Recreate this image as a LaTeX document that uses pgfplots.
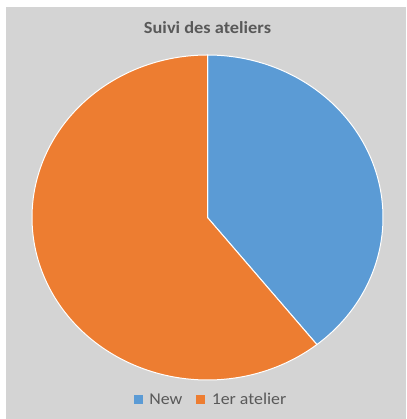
\documentclass[border=0pt]{standalone}
\usepackage{pgfplots}
\pgfplotsset{compat=1.18}
\usepackage{pgfplotstable}
\usepackage{fontspec}
\setmainfont{Carlito}
\newfontfamily\chartfont[FakeStretch=1.08]{Carlito}
\definecolor{bgC}{HTML}{D4D4D4}
\definecolor{txtC}{HTML}{595959}
\definecolor{blueC}{HTML}{5B9BD5}
\definecolor{orangeC}{HTML}{ED7D31}
\pgfplotstableread{
label value
New 11
1er 17
}\piedata
\begin{document}
\begin{tikzpicture}
\pgfplotstablegetelem{0}{value}\of\piedata \let\vA\pgfplotsretval
\pgfplotstablegetelem{1}{value}\of\piedata \let\vB\pgfplotsretval
\pgfmathsetmacro{\angA}{360*\vA/(\vA+\vB)}
\pgfmathsetmacro{\startA}{90-\angA}
\pgfmathsetmacro{\endB}{90+360-\angA}
\fill[white] (0pt,0pt) rectangle (406pt,419pt);
\fill[bgC] (6pt,0pt) rectangle (406pt,412pt);
\useasboundingbox (0pt,0pt) rectangle (406pt,419pt);
\begin{axis}[
  at={(207.5pt,201.5pt)}, anchor=center,
  scale only axis, width=351pt, height=325pt,
  xmin=-1, xmax=1, ymin=-1, ymax=1,
  hide axis, clip=false,
  title={Suivi des ateliers},
  title style={at={(axis description cs:0.5,1)}, anchor=base, yshift=15.7pt, text=txtC, inner sep=0pt,
    font=\chartfont\bfseries\fontsize{17}{20}\selectfont},
  legend columns=2,
  legend style={at={(axis description cs:0.5,0)}, anchor=center, yshift=-20pt, xshift=3.5pt,
    draw=none, fill=none, text=txtC, font=\chartfont\fontsize{16.5}{19}\selectfont,
    /tikz/every even column/.append style={column sep=12pt}},
  legend image code/.code={\fill[#1, draw=none] (0pt,-4.5pt) rectangle (9pt,4.5pt); \path (13pt,0pt);},
]
\addplot[fill=blueC, draw=white, line width=1pt, domain=\startA:90, samples=120, variable=\t]
  ({cos(\t)},{sin(\t)}) -- (axis cs:0,0) -- cycle;
\addlegendentry{New}
\addplot[fill=orangeC, draw=white, line width=1pt, domain=90:\endB, samples=180, variable=\t]
  ({cos(\t)},{sin(\t)}) -- (axis cs:0,0) -- cycle;
\addlegendentry{1er atelier}
\end{axis}
\end{tikzpicture}
\end{document}
